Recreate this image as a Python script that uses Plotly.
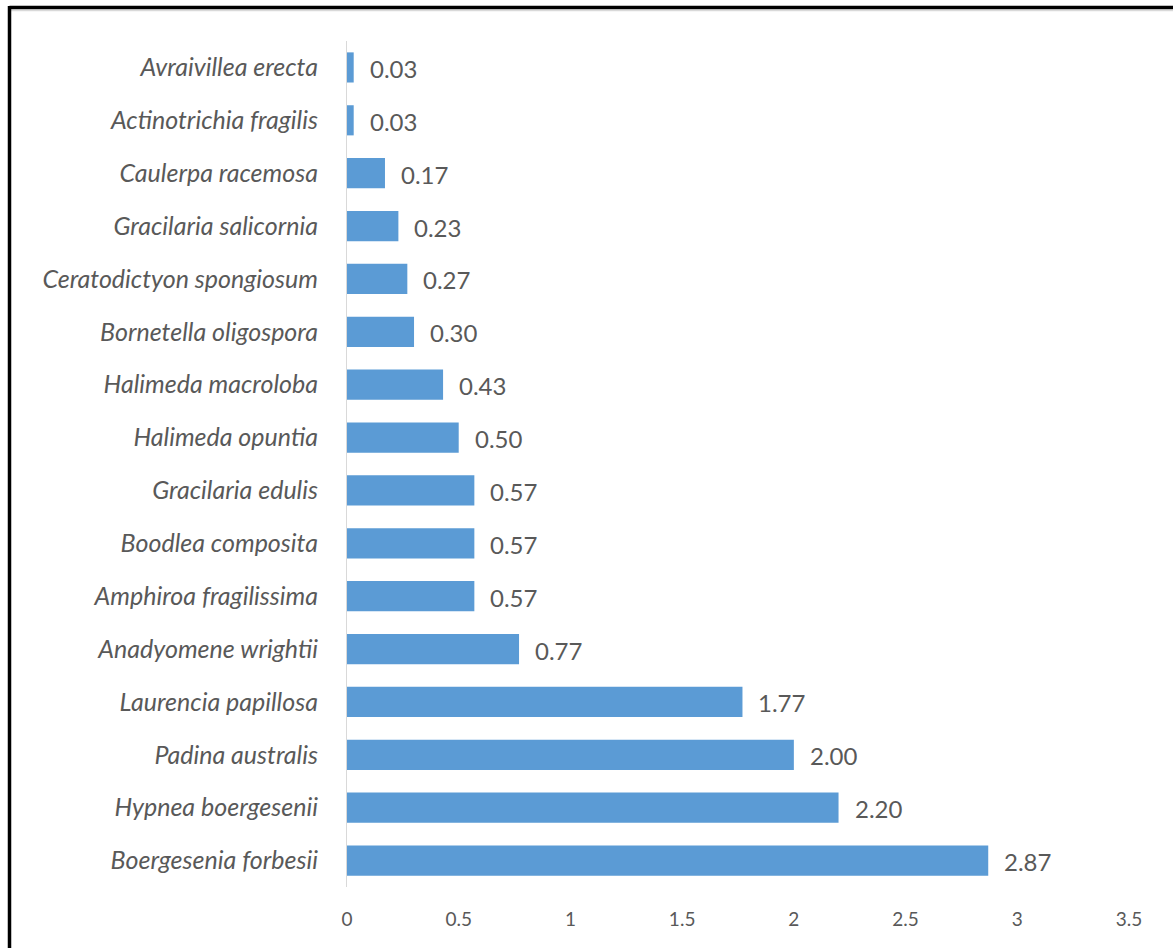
import plotly.graph_objects as go

# Species, listed top to bottom as displayed
species = [
    "Avraivillea erecta",
    "Actinotrichia fragilis",
    "Caulerpa racemosa",
    "Gracilaria salicornia",
    "Ceratodictyon spongiosum",
    "Bornetella oligospora",
    "Halimeda macroloba",
    "Halimeda opuntia",
    "Gracilaria edulis",
    "Boodlea composita",
    "Amphiroa fragilissima",
    "Anadyomene wrightii",
    "Laurencia papillosa",
    "Padina australis",
    "Hypnea boergesenii",
    "Boergesenia forbesii",
]
values = [0.03, 0.03, 0.17, 0.23, 0.27, 0.30, 0.43, 0.50,
          0.57, 0.57, 0.57, 0.77, 1.77, 2.00, 2.20, 2.87]
x_ticks = [0, 0.5, 1, 1.5, 2, 2.5, 3, 3.5]

BAR = "#5B9BD5"
TXT = "#595959"
FONT = "Lato, Carlito, Calibri, sans-serif"

W, H = 1173, 948
L, R, T, B = 347, 44, 41, 61

fig = go.Figure(go.Bar(
    x=values,
    y=species,
    orientation="h",
    marker=dict(color=BAR, line=dict(width=0)),
    width=0.57,
    hoverinfo="x+y",
))

# value labels beside each bar
for sp, v in zip(species, values):
    fig.add_annotation(
        x=v, y=sp, xref="x", yref="y",
        text=f"{v:.2f}", showarrow=False,
        xanchor="left", yanchor="middle", xshift=14, yshift=-1,
        font=dict(family=FONT, size=24, color=TXT),
    )

# page frame: thick black top and left rules with a faint shadow under the top one
pw, ph = W - L - R, H - T - B
def px(xpix):
    return (xpix - L) / pw
def py(ypix):
    return 1 + (T - ypix) / ph

fig.add_shape(type="line", xref="paper", yref="paper",
              x0=px(9.5), x1=px(W + 20), y0=py(10.5), y1=py(10.5),
              line=dict(color="#d9d9d9", width=1.5))
fig.add_shape(type="line", xref="paper", yref="paper",
              x0=px(9.5), x1=px(W + 20), y0=py(7.5), y1=py(7.5),
              line=dict(color="#000000", width=3.5))
fig.add_shape(type="line", xref="paper", yref="paper",
              x0=px(9.5), x1=px(9.5), y0=py(6), y1=py(H + 20),
              line=dict(color="#000000", width=3.5))

fig.update_layout(
    width=W, height=H,
    margin=dict(l=L, r=R, t=T, b=B, autoexpand=False),
    paper_bgcolor="white",
    plot_bgcolor="white",
    showlegend=False,
    xaxis=dict(
        range=[0, 3.5],
        tickvals=x_ticks,
        ticktext=[f"{t:g}" for t in x_ticks],
        showgrid=False, zeroline=False, showline=False,
        ticks="", ticklabelstandoff=19,
        tickfont=dict(family=FONT, size=19, color=TXT),
        fixedrange=True,
    ),
    yaxis=dict(
        autorange="reversed",
        showgrid=False, zeroline=False,
        showline=True, linecolor="#d9d9d9", linewidth=1,
        ticks="", ticklabelstandoff=23,
        tickfont=dict(family=FONT, size=25, color=TXT, style="italic"),
        fixedrange=True,
    ),
)

fig.write_html("out.html")
